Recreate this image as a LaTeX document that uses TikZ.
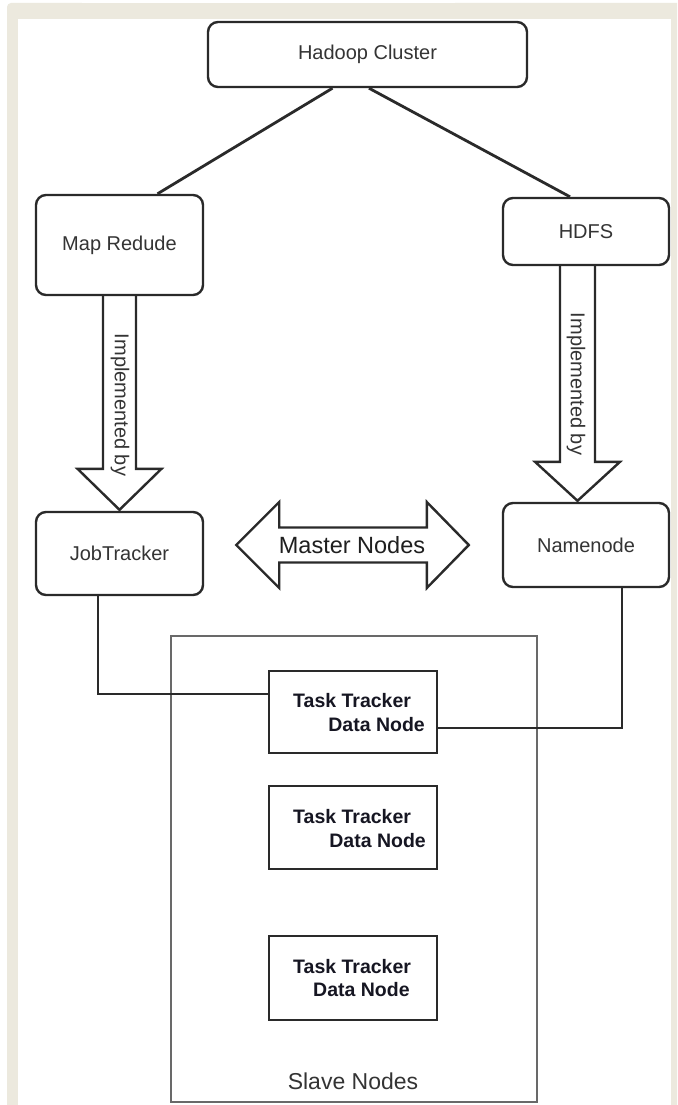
\documentclass[tikz,border=0pt]{standalone}
\usepackage{fontspec}
\setmainfont{Liberation Sans}
\usetikzlibrary{calc}
\definecolor{frame}{RGB}{236,233,222}
\definecolor{ink}{RGB}{42,42,42}
\definecolor{txt}{RGB}{52,52,52}
\definecolor{slaveline}{RGB}{105,105,105}
\definecolor{boldtxt}{RGB}{22,22,34}

\begin{document}
\begin{tikzpicture}[x=1pt,y=-1pt,
  rbox/.style={draw=ink, line width=2.4pt, rounded corners=10pt, fill=white,
               inner sep=0pt, text=txt, font=\fontsize{20}{24}\selectfont},
  tbox/.style={draw=ink, line width=2.6pt, fill=white, inner sep=0pt},
  ttext/.style={font=\bfseries\fontsize{19.5}{24}\selectfont, text=boldtxt,
                inner sep=0pt, anchor=base west},
  conn/.style={draw=ink, line width=2.8pt},
  hollow/.style={draw=ink, line width=2.4pt, line join=miter},
  lbl/.style={font=\fontsize{20}{24}\selectfont, text=txt, inner sep=0pt},
]
\useasboundingbox (0,0) rectangle (677,1105);
\clip (0,0) rectangle (677,1105);

% page background and frame
\fill[white] (0,0) rectangle (677,1105);
\fill[frame, rounded corners=4pt] (7,3) rectangle (690,1120);
\fill[white] (82,0) rectangle (455,3);
\fill[white] (18,19) rectangle (671,1105);

% top-level boxes
\node[rbox, minimum width=319pt, minimum height=65pt] (hc) at (367.5,54.5) {Hadoop Cluster};
\node[rbox, minimum width=167pt, minimum height=100pt] (mr) at (119.5,245) {Map Redude};
\node[rbox, minimum width=166pt, minimum height=67pt] (hdfs) at (586,231.5) {HDFS};
\node[rbox, minimum width=167pt, minimum height=83pt] (jt) at (119.5,553.5) {JobTracker};
\node[rbox, minimum width=166pt, minimum height=84pt] (nn) at (586,545) {Namenode};

% slave container
\node[draw=slaveline, line width=1.8pt, minimum width=366pt, minimum height=466pt,
      inner sep=0pt] (slave) at (354,869) {};
\node[font=\fontsize{23}{27}\selectfont, text=txt, anchor=base, inner sep=0pt]
      (slavelbl) at (353,1089) {Slave Nodes};

% task tracker / data node boxes
\node[tbox, minimum width=168pt, minimum height=82pt] (tt1) at (353,712) {};
\node[tbox, minimum width=168pt, minimum height=83pt] (tt2) at (353,827.5) {};
\node[tbox, minimum width=168pt, minimum height=84pt] (tt3) at (353,978) {};

\node[ttext] (tt1a) at (293,707) {Task Tracker};
\node[ttext, anchor=base east] (tt1b) at (425,731) {Data Node};
\node[ttext] (tt2a) at (293,823) {Task Tracker};
\node[ttext, anchor=base east] (tt2b) at (426,847) {Data Node};
\node[ttext] (tt3a) at (293,973) {Task Tracker};
\node[ttext] (tt3b) at (313,996) {Data Node};

% tree links
\draw[conn] ([xshift=-35pt]hc.south) -- ([xshift=38pt]mr.north);
\draw[conn] ([xshift=1.5pt]hc.south) -- ([xshift=-16pt]hdfs.north);

% "implemented by" block arrows
\draw[hollow] let \p1=(mr.south), \p2=(jt.north) in
  (\x1-16.5pt,\y1) -- (\x1-16.5pt,\y2+42pt) -- (\x1-42pt,\y2+42pt) -- (\x2,\y2+1pt)
  -- (\x1+42pt,\y2+42pt) -- (\x1+16.5pt,\y2+42pt) -- (\x1+16.5pt,\y1);
\node[lbl, rotate=-90] (impl1) at (120,405) {Implemented by};

\draw[hollow] let \p1=([xshift=-8.5pt]hdfs.south), \p2=(nn.north) in
  (\x1-17.5pt,\y1) -- (\x1-17.5pt,\y2+40pt) -- (\x1-42.5pt,\y2+40pt) -- (\x1,\y2+1pt)
  -- (\x1+42.5pt,\y2+40pt) -- (\x1+17.5pt,\y2+40pt) -- (\x1+17.5pt,\y1);
\node[lbl, rotate=-90] (impl2) at (576,384) {Implemented by};

% master nodes double arrow (canvas y is negative downwards)
\draw[hollow] let \p1=([xshift=32pt]jt.east), \p2=([xshift=-33pt]nn.west) in
  (\x1,-545pt) -- (\x1+43pt,-502pt) -- (\x1+43pt,-527.5pt) -- (\x2-42pt,-527.5pt)
  -- (\x2-42pt,-502pt) -- (\x2,-545pt) -- (\x2-42pt,-588pt) -- (\x2-42pt,-562.5pt)
  -- (\x1+43pt,-562.5pt) -- (\x1+43pt,-588pt) -- cycle;
\node[font=\fontsize{23.5}{28}\selectfont, text=black!88, inner sep=0pt]
      (master) at (352,545) {Master Nodes};

% links from masters to the first slave
\draw[conn] ([xshift=-21.5pt]jt.south) |- ([yshift=18pt]tt1.west);
\draw[conn] ([yshift=-16pt]tt1.east) -| ([xshift=36pt]nn.south);
\end{tikzpicture}
\end{document}
